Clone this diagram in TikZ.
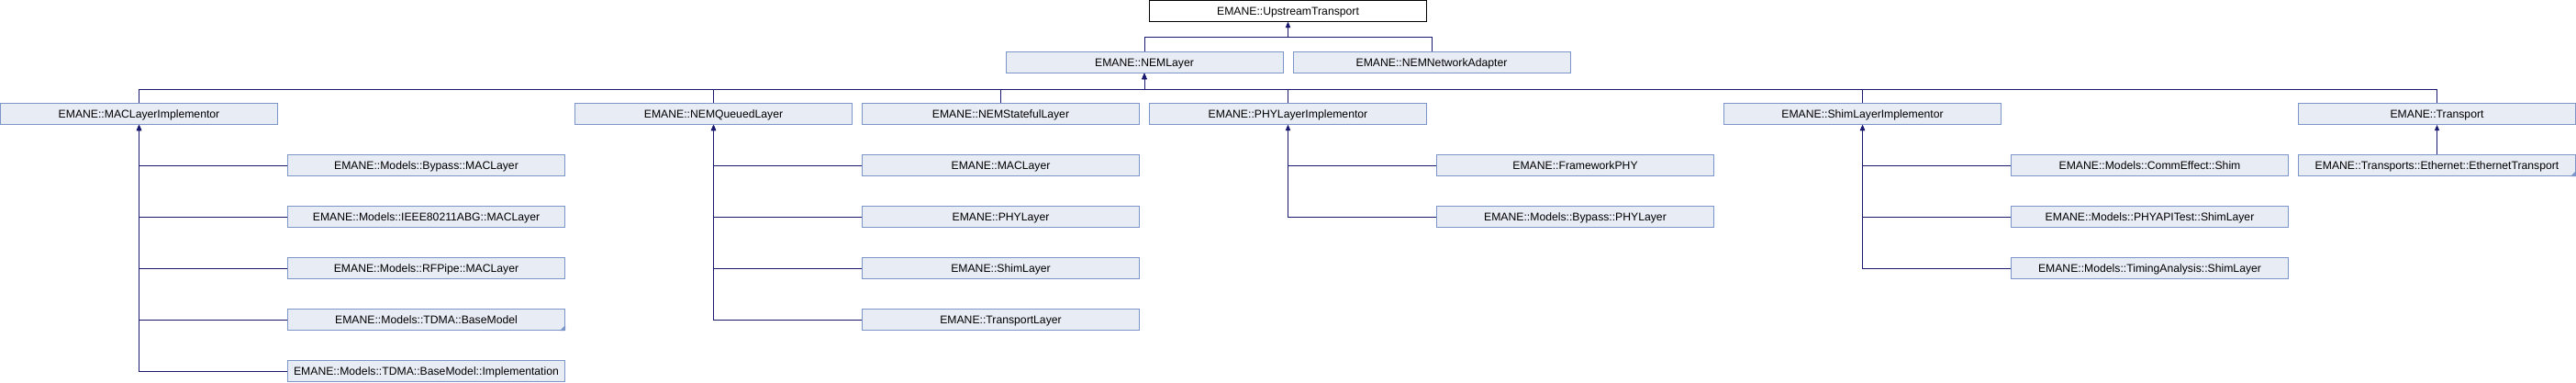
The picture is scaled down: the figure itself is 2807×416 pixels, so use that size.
\documentclass[tikz,border=0pt]{standalone}
\usepackage{fontspec}
\setmainfont{Liberation Sans}
\usetikzlibrary{arrows.meta}
\definecolor{boxfill}{HTML}{E8ECF5}
\definecolor{boxline}{HTML}{7C95C9}
\definecolor{edgeblue}{HTML}{191970}
\begin{document}
\begin{tikzpicture}[x=1pt, y=-1pt,
  cls/.style={draw=boxline, fill=boxfill, line width=1pt, minimum width=302pt,
    minimum height=23pt, inner sep=0pt, text height=8.8pt, text depth=0pt,
    font=\fontsize{12.2}{14}\selectfont},
  root/.style={cls, draw=black, fill=white},
  inherit/.style={draw=edgeblue, line width=1pt, -{Triangle[length=6pt,width=5pt]}}]

  \useasboundingbox (0,0) rectangle (2807,416);

  \node[root] (upstream)   at (1403.5,12) {EMANE::UpstreamTransport};

  \node[cls]  (nemlayer)   at (1247,68)   {EMANE::NEMLayer};
  \node[cls]  (netadapter) at (1560,68)   {EMANE::NEMNetworkAdapter};

  \node[cls]  (macimpl)    at (151.5,124)  {EMANE::MACLayerImplementor};
  \node[cls]  (queued)     at (777.5,124)  {EMANE::NEMQueuedLayer};
  \node[cls]  (stateful)   at (1090.5,124) {EMANE::NEMStatefulLayer};
  \node[cls]  (phyimpl)    at (1403.5,124) {EMANE::PHYLayerImplementor};
  \node[cls]  (shimimpl)   at (2029.5,124) {EMANE::ShimLayerImplementor};
  \node[cls]  (transport)  at (2655.5,124) {EMANE::Transport};

  \node[cls]  (bypassmac)  at (464.5,180) {EMANE::Models::Bypass::MACLayer};
  \node[cls]  (ieeemac)    at (464.5,236) {EMANE::Models::IEEE80211ABG::MACLayer};
  \node[cls]  (rfpipe)     at (464.5,292) {EMANE::Models::RFPipe::MACLayer};
  \node[cls]  (basemodel)  at (464.5,348) {EMANE::Models::TDMA::BaseModel};
  \node[cls]  (bmimpl)     at (464.5,404) {EMANE::Models::TDMA::BaseModel::Implementation};

  \node[cls]  (maclayer)   at (1090.5,180) {EMANE::MACLayer};
  \node[cls]  (phylayer)   at (1090.5,236) {EMANE::PHYLayer};
  \node[cls]  (shimlayer)  at (1090.5,292) {EMANE::ShimLayer};
  \node[cls]  (translayer) at (1090.5,348) {EMANE::TransportLayer};

  \node[cls]  (frameworkphy) at (1716.5,180) {EMANE::FrameworkPHY};
  \node[cls]  (bypassphy)    at (1716.5,236) {EMANE::Models::Bypass::PHYLayer};

  \node[cls]  (commeffect) at (2342.5,180) {EMANE::Models::CommEffect::Shim};
  \node[cls]  (phyapitest) at (2342.5,236) {EMANE::Models::PHYAPITest::ShimLayer};
  \node[cls]  (timing)     at (2342.5,292) {EMANE::Models::TimingAnalysis::ShimLayer};

  \node[cls]  (ethernet)   at (2655.5,180) {EMANE::Transports::Ethernet::EthernetTransport};

  \fill[boxline] (basemodel.south east) -- ++(-6,0) -- ++(6,-6) -- cycle;
  \fill[boxline] (ethernet.south east) -- ++(-6,0) -- ++(6,-6) -- cycle;

  \coordinate (bus1) at (0,40);
  \coordinate (bus2) at (0,97);

  \foreach \c in {nemlayer,netadapter}
    \draw[inherit] (\c.north) -- (\c.north |- bus1) -| (upstream.south);
  \foreach \c in {macimpl,queued,stateful,phyimpl,shimimpl,transport}
    \draw[inherit] (\c.north) -- (\c.north |- bus2) -| (nemlayer.south);
  \foreach \c in {bypassmac,ieeemac,rfpipe,basemodel,bmimpl}
    \draw[inherit] (\c.west) -| (macimpl.south);
  \foreach \c in {maclayer,phylayer,shimlayer,translayer}
    \draw[inherit] (\c.west) -| (queued.south);
  \foreach \c in {frameworkphy,bypassphy}
    \draw[inherit] (\c.west) -| (phyimpl.south);
  \foreach \c in {commeffect,phyapitest,timing}
    \draw[inherit] (\c.west) -| (shimimpl.south);
  \draw[inherit] (ethernet.north) -- (transport.south);
\end{tikzpicture}
\end{document}
